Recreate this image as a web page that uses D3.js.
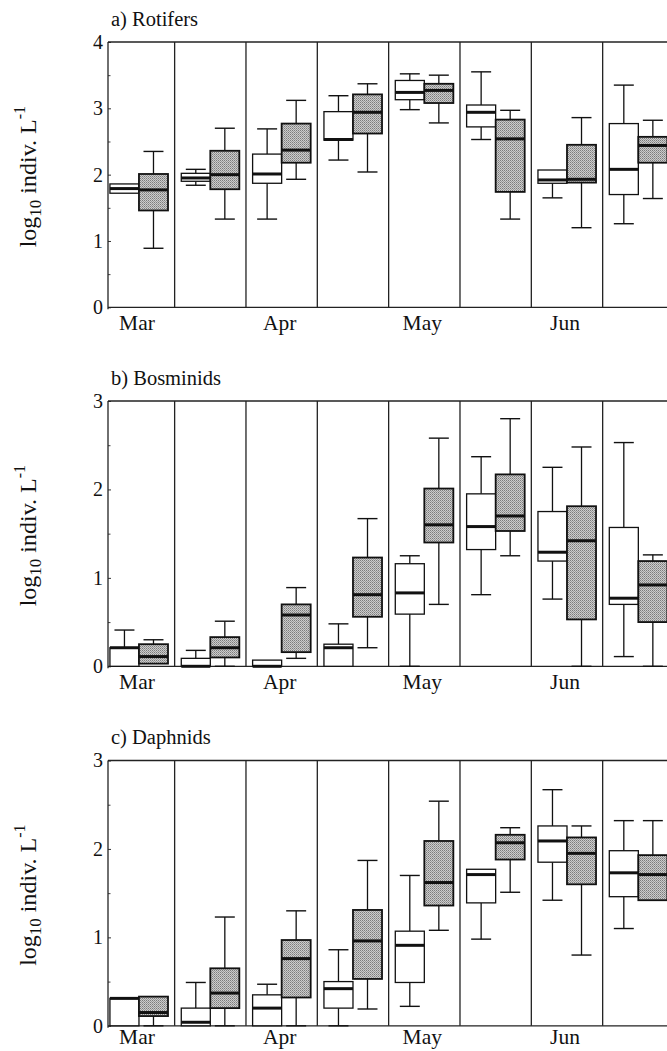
<!DOCTYPE html>
<html>
<head>
<meta charset="utf-8">
<script src="https://cdn.jsdelivr.net/npm/d3@7"></script>
<style>
  body { margin: 0; background: #fff; }
  svg { display: block; }
</style>
</head>
<body>
<script>
// half-month sampling periods, Mar to Jun
const periods = [0, 1, 2, 3, 4, 5, 6, 7];
const months = ["Mar", "Apr", "May", "Jun"];

// every entry: [min, q1, median, q3, max] in log10 indiv. L-1
const rotifersWhite = [
  [1.72, 1.72, 1.79, 1.86, 1.86], [1.84, 1.90, 1.95, 2.02, 2.08],
  [1.33, 1.87, 2.01, 2.31, 2.69], [2.22, 2.52, 2.53, 2.95, 3.19],
  [2.98, 3.13, 3.24, 3.42, 3.52], [2.53, 2.72, 2.94, 3.05, 3.55],
  [1.65, 1.87, 1.92, 2.07, 2.07], [1.26, 1.70, 2.08, 2.77, 3.35]
];
const rotifersGray = [
  [0.89, 1.46, 1.77, 2.01, 2.35], [1.33, 1.78, 2.00, 2.36, 2.70],
  [1.93, 2.18, 2.37, 2.77, 3.12], [2.04, 2.62, 2.94, 3.21, 3.37],
  [2.78, 3.08, 3.27, 3.37, 3.50], [1.33, 1.74, 2.54, 2.83, 2.97],
  [1.20, 1.88, 1.93, 2.45, 2.86], [1.64, 2.18, 2.44, 2.57, 2.82]
];
const bosminidsWhite = [
  [0, 0, 0.21, 0.21, 0.41], [0, 0, 0, 0.09, 0.18],
  [0, 0, 0, 0.07, 0.07], [0, 0, 0.21, 0.25, 0.48],
  [0, 0.59, 0.83, 1.16, 1.25], [0.81, 1.32, 1.58, 1.95, 2.37],
  [0.76, 1.19, 1.29, 1.75, 2.25], [0.11, 0.70, 0.77, 1.57, 2.53]
];
const bosminidsGray = [
  [0.03, 0.03, 0.11, 0.25, 0.30], [0, 0.10, 0.21, 0.33, 0.51],
  [0.09, 0.16, 0.58, 0.70, 0.89], [0.21, 0.56, 0.81, 1.23, 1.67],
  [0.70, 1.40, 1.60, 2.01, 2.58], [1.25, 1.53, 1.70, 2.17, 2.80],
  [0, 0.53, 1.42, 1.81, 2.48], [0, 0.50, 0.92, 1.19, 1.26]
];
const daphnidsWhite = [
  [0, 0, 0.31, 0.31, 0.31], [0, 0, 0.04, 0.20, 0.49],
  [0, 0, 0.20, 0.35, 0.47], [0, 0.20, 0.42, 0.50, 0.86],
  [0.22, 0.49, 0.91, 1.07, 1.70], [0.98, 1.39, 1.71, 1.77, 1.77],
  [1.42, 1.85, 2.09, 2.26, 2.67], [1.10, 1.46, 1.73, 1.98, 2.32]
];
const daphnidsGray = [
  [0, 0.11, 0.15, 0.33, 0.33], [0, 0.20, 0.37, 0.65, 1.23],
  [0, 0.32, 0.76, 0.97, 1.30], [0.19, 0.53, 0.96, 1.31, 1.87],
  [1.08, 1.36, 1.62, 2.09, 2.54], [1.51, 1.88, 2.07, 2.16, 2.24],
  [0.80, 1.60, 1.95, 2.13, 2.26], [1.42, 1.42, 1.71, 1.93, 2.32]
];

const panels = [
  { title: "a) Rotifers", yMax: 4, white: rotifersWhite, gray: rotifersGray },
  { title: "b) Bosminids", yMax: 3, white: bosminidsWhite, gray: bosminidsGray },
  { title: "c) Daphnids", yMax: 3, white: daphnidsWhite, gray: daphnidsGray }
];

const width = 667, height = 1051;
const font = "'Liberation Serif', 'Times New Roman', serif";
const axisLeftX = 108;
const tops = [42, 401, 760.5];
const panelH = 265.3;
const halfBox = 0.407, halfCap = 0.14;

const svg = d3.select("body").append("svg")
  .attr("width", width).attr("height", height)
  .style("font-family", font);

// halftone-like fill for the gray boxes
const pat = svg.append("defs").append("pattern")
  .attr("id", "stipple").attr("width", 2).attr("height", 2)
  .attr("patternUnits", "userSpaceOnUse");
pat.append("rect").attr("width", 2).attr("height", 2).attr("fill", "#cccccc");
pat.append("rect").attr("width", 1).attr("height", 1).attr("fill", "#7c7c7c");
pat.append("rect").attr("x", 1).attr("y", 1).attr("width", 1).attr("height", 1).attr("fill", "#9a9a9a");

const x = d3.scaleLinear().domain([0, 8]).range([103.3, 674]);

panels.forEach(function(p, pi) {
  const top = tops[pi], bottom = top + panelH;
  const y = d3.scaleLinear().domain([0, p.yMax]).range([bottom, top]);
  const g = svg.append("g");

  g.append("text")
    .attr("x", 111).attr("y", top - 16.5)
    .attr("font-size", 20.5).attr("fill", "#111")
    .text(p.title);

  // y axis label
  const lab = g.append("text")
    .attr("transform", `translate(36,${(top + bottom) / 2 + 2}) rotate(-90)`)
    .attr("text-anchor", "middle")
    .attr("font-size", 24).attr("fill", "#111");
  lab.append("tspan").text("log");
  lab.append("tspan").attr("font-size", 17).attr("dy", 5).text("10");
  lab.append("tspan").attr("dy", -5).text(" indiv. L");
  lab.append("tspan").attr("font-size", 16).attr("dy", -11).text("-1");

  // major and minor ticks, pointing inward
  const yAxis = g.append("g").attr("transform", `translate(${axisLeftX},0)`)
    .call(d3.axisLeft(y).tickValues(d3.range(0, p.yMax + 1)).tickSize(-3).tickPadding(5).tickFormat(d3.format("d")));
  yAxis.select(".domain").remove();
  yAxis.selectAll("text").attr("font-size", 20).attr("font-family", font).attr("fill", "#111");
  yAxis.selectAll("line").attr("stroke", "#333");
  const yMinor = g.append("g").attr("transform", `translate(${axisLeftX},0)`)
    .call(d3.axisLeft(y).tickValues(d3.range(0.5, p.yMax, 1)).tickSize(-2.5).tickFormat(""));
  yMinor.select(".domain").remove();
  yMinor.selectAll("line").attr("stroke", "#444");

  // frame and period separators
  const frame = g.append("g").attr("stroke", "#222").attr("stroke-width", 1.3).attr("fill", "none");
  frame.append("line").attr("x1", axisLeftX).attr("x2", width).attr("y1", top).attr("y2", top);
  frame.append("line").attr("x1", axisLeftX).attr("x2", width).attr("y1", bottom).attr("y2", bottom);
  frame.append("line").attr("x1", axisLeftX).attr("x2", axisLeftX).attr("y1", top).attr("y2", bottom + 2);
  frame.selectAll("line.sep").data(periods.slice(1)).join("line")
    .attr("class", "sep")
    .attr("x1", d => x(d)).attr("x2", d => x(d))
    .attr("y1", top).attr("y2", bottom);

  // month labels under every second period
  g.selectAll("text.month").data(months).join("text")
    .attr("class", "month")
    .attr("x", (d, i) => x(2 * i + 0.5) - 2)
    .attr("y", Math.min(bottom + 22.5, height - 7))
    .attr("text-anchor", "middle")
    .attr("font-size", 21.5).attr("fill", "#111")
    .text(d => d);

  function drawBoxes(data, side, fill, sw) {
    const bx = g.append("g");
    const capW = x(halfCap) - x(0);
    data.forEach(function(d, i) {
      const left = side < 0 ? x(i + 0.5 - halfBox) : x(i + 0.5);
      const right = side < 0 ? x(i + 0.5) : x(i + 0.5 + halfBox);
      const cx = (left + right) / 2;
      const bg = bx.append("g").attr("stroke", "#111");
      // whiskers with caps
      if (d[4] > d[3]) {
        bg.append("line").attr("x1", cx).attr("x2", cx).attr("y1", y(d[3])).attr("y2", y(d[4])).attr("stroke-width", 1.3);
        bg.append("line").attr("x1", cx - capW).attr("x2", cx + capW).attr("y1", y(d[4])).attr("y2", y(d[4])).attr("stroke-width", 1.4);
      }
      if (d[1] > d[0]) {
        bg.append("line").attr("x1", cx).attr("x2", cx).attr("y1", y(d[1])).attr("y2", y(d[0])).attr("stroke-width", 1.3);
        bg.append("line").attr("x1", cx - capW).attr("x2", cx + capW).attr("y1", y(d[0])).attr("y2", y(d[0])).attr("stroke-width", 1.4);
      }
      bg.append("rect")
        .attr("x", left).attr("width", right - left)
        .attr("y", y(d[3])).attr("height", Math.max(0, y(d[1]) - y(d[3])))
        .attr("fill", fill).attr("stroke-width", sw);
      bg.append("line").attr("x1", left).attr("x2", right)
        .attr("y1", y(d[2])).attr("y2", y(d[2])).attr("stroke-width", 3);
    });
  }
  drawBoxes(p.white, -1, "#fff", 1.3);
  drawBoxes(p.gray, 1, "url(#stipple)", 1.8);
});
</script>
</body>
</html>
